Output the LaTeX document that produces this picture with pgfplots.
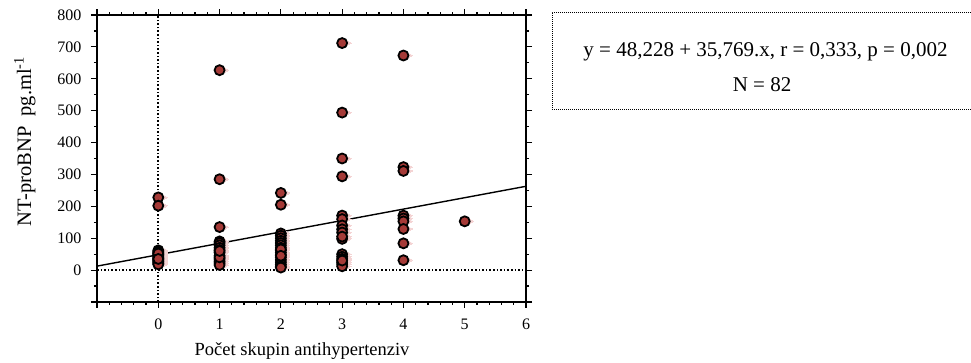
\documentclass[border=0pt]{standalone}
\usepackage{fontspec}
\setmainfont{Liberation Serif}
\usepackage{pgfplots}
\usepackage{pgfplotstable}
\pgfplotsset{compat=1.18}
\definecolor{ptfill}{RGB}{165,58,55}
\definecolor{shadow}{RGB}{244,212,212}
\pgfplotstableread{
x y
0 228
0 202
0 62
0 58
0 55
0 50
0 47
0 44
0 40
0 37
0 33
0 30
0 27
0 24
0 20
0 18
0 52
0 35
1 627
1 285
1 135
1 90
1 85
1 78
1 70
1 63
1 55
1 45
1 35
1 28
1 22
1 16
1 40
1 60
2 242
2 205
2 115
2 108
2 100
2 92
2 85
2 78
2 70
2 62
2 55
2 48
2 40
2 32
2 25
2 18
2 12
2 8
2 65
2 45
3 712
3 494
3 350
3 294
3 171
3 160
3 140
3 128
3 118
3 98
3 50
3 42
3 35
3 25
3 19
3 12
3 105
3 30
4 673
4 323
4 311
4 171
4 162
4 153
4 129
4 84
4 31
5 153
}\pts
\begin{document}
\begin{tikzpicture}[x=1pt,y=1pt]
\useasboundingbox (0,0) rectangle (971,363);
\begin{axis}[
  at={(97pt,61pt)}, anchor=south west,
  scale only axis, width=429pt, height=287pt,
  xmin=-1, xmax=6, ymin=-100, ymax=800,
  xtick={-1,0,...,6}, xticklabels={,0,1,2,3,4,5,6},
  ytick={-100,0,100,...,800}, yticklabels={,0,100,200,300,400,500,600,700,800},
  minor x tick num=4, minor y tick num=1,
  tick align=outside, major tick length=6pt, minor tick length=3pt,
  every tick/.style={black, line width=1.2pt},
  axis line style={line width=1.6pt},
  tick label style={font=\fontsize{16}{16}\selectfont},
  xticklabel style={yshift=-7pt},
  yticklabel style={xshift=-6pt},
  xlabel={Počet skupin antihypertenziv},
  ylabel={NT-proBNP\ \ pg.ml\textsuperscript{-1}},
  xlabel style={at={(axis description cs:0.478,-0.171)}, anchor=center, font=\fontsize{18.5}{18.5}\selectfont},
  ylabel style={at={(axis description cs:-0.168,0.56)}, anchor=center, font=\fontsize{20.5}{20.5}\selectfont},
]
\addplot[dotted, line width=1.6pt] coordinates {(0,-100) (0,800)};
\addplot[dotted, line width=1.6pt] coordinates {(-1,0) (6,0)};
\addplot[black, line width=1.4pt] coordinates {(-1,12.459) (6,262.842)};
\addplot[only marks, color=shadow, mark=triangle*, mark size=3pt, mark options={xshift=6pt, rotate=-90, fill=shadow, draw=shadow, line width=0pt}] table[x=x,y=y] {\pts};
\addplot[only marks, mark=*, mark size=5pt, mark options={fill=ptfill, draw=black, line width=1.8pt}] table[x=x,y=y] {\pts};
\end{axis}
\draw[line width=0.8pt, dash pattern=on 1pt off 1pt] (971,351) -- (552,351) -- (552,254) -- (971,254);
\node[anchor=base, font=\fontsize{21}{21}\selectfont, inner sep=0pt] at (765.5,306) {y = 48,228 + 35,769.x, r = 0,333, p = 0,002};
\node[anchor=base, font=\fontsize{21}{21}\selectfont, inner sep=0pt] at (762,271) {N = 82};
\end{tikzpicture}
\end{document}
